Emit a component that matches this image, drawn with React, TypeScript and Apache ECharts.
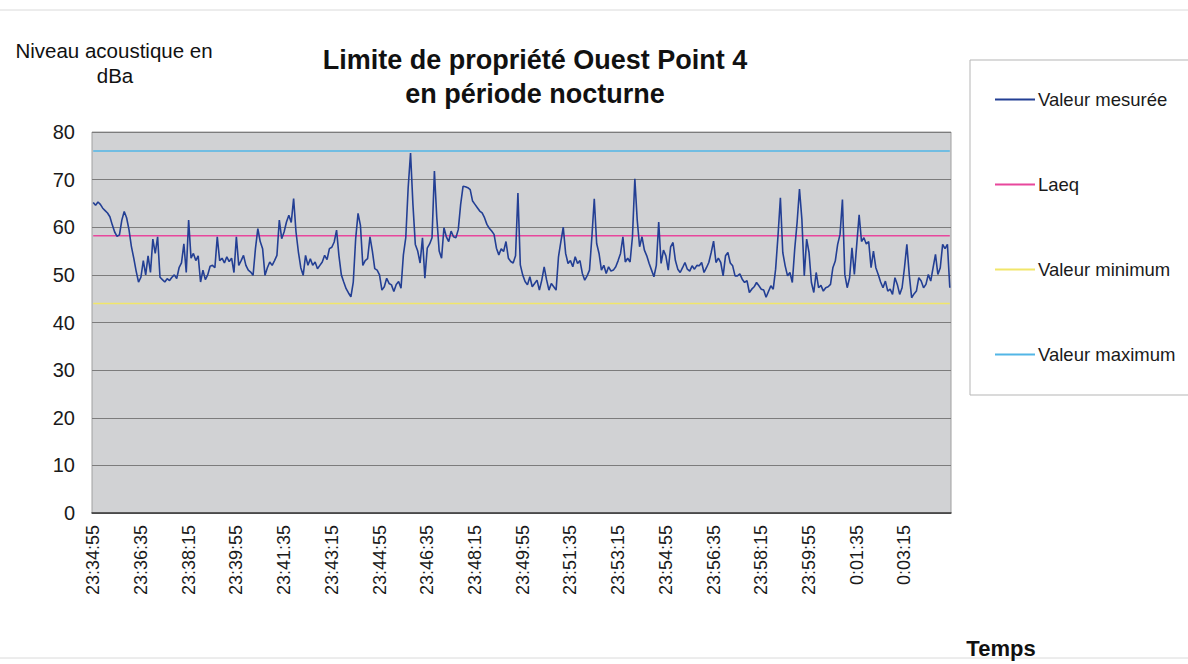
import React, { useEffect, useRef } from "react";
import * as echarts from "echarts";

// ---- data -------------------------------------------------------------
const START_TIME = "23:34:55";
const STEP_SECONDS = 5;
const POINT_COUNT = 360;

const measuredValues: number[] = [
  // 23:34:55
  65.2, 64.6, 65.3, 64.8, 64.0, 63.5, 63.0, 62.2, 60.5, 59.0, 58.1, 58.4, 61.5, 63.3, 62.0, 59.5, 56.0, 53.5, 50.8, 48.5,
  // 23:36:35
  49.5, 53.0, 50.0, 54.0, 50.5, 57.5, 54.5, 58.0, 49.5, 49.0, 48.5, 49.2, 48.8, 49.5, 50.0, 49.2, 51.5, 52.5, 56.5, 50.5,
  // 23:38:15
  61.5, 53.5, 54.5, 53.0, 54.0, 48.5, 51.0, 49.0, 50.0, 51.8, 52.0, 51.5, 58.0, 53.0, 53.5, 52.5, 53.8, 52.8, 53.5, 50.5,
  // 23:39:55
  58.0, 52.0, 53.0, 54.1, 52.0, 51.0, 50.6, 49.9, 55.5, 59.7, 57.0, 55.5, 49.9, 51.5, 52.7, 52.0, 53.0, 54.1, 61.5, 57.6,
  // 23:41:35
  59.0, 61.1, 62.5, 61.0, 66.0, 59.0, 54.8, 51.5, 49.9, 54.1, 52.0, 53.4, 52.0, 52.7, 51.3, 52.0, 52.7, 54.1, 53.2, 55.5,
  // 23:43:15
  55.8, 56.9, 59.4, 54.0, 50.0, 48.5, 47.1, 46.2, 45.4, 48.5, 57.6, 62.9, 60.4, 52.0, 53.0, 53.4, 58.0, 55.0, 51.3, 51.0,
  // 23:44:55
  50.0, 46.8, 47.5, 49.3, 48.2, 47.9, 46.5, 48.0, 48.6, 47.2, 54.2, 57.8, 68.3, 75.6, 64.8, 56.4, 55.0, 52.5, 57.8, 49.3,
  // 23:46:35
  55.6, 56.5, 57.8, 71.8, 62.0, 55.0, 53.5, 59.9, 58.0, 57.0, 59.2, 58.0, 57.8, 59.5, 64.8, 68.6, 68.5, 68.3, 67.9, 65.5,
  // 23:48:15
  64.8, 64.1, 63.4, 63.0, 62.0, 60.6, 59.8, 59.2, 58.5, 55.6, 54.2, 55.5, 54.9, 57.0, 53.5, 52.8, 52.5, 54.0, 67.2, 52.1,
  // 23:49:55
  50.0, 48.6, 47.9, 49.6, 47.5, 48.2, 48.9, 46.8, 48.9, 51.7, 49.0, 46.8, 48.2, 47.5, 46.8, 53.8, 57.0, 60.0, 54.5, 52.4,
  // 23:51:35
  53.0, 51.7, 53.8, 52.4, 53.0, 50.3, 48.9, 49.8, 51.0, 58.0, 66.0, 56.6, 54.5, 51.0, 52.0, 50.3, 51.7, 50.8, 51.0, 51.7,
  // 23:53:15
  53.0, 54.5, 58.0, 52.7, 53.5, 52.7, 58.0, 70.2, 61.5, 55.9, 58.0, 55.2, 54.0, 52.4, 51.0, 49.6, 52.0, 61.1, 52.4, 55.2,
  // 23:54:55
  54.0, 51.0, 55.9, 56.8, 53.0, 51.2, 50.5, 51.5, 52.6, 51.2, 50.8, 51.9, 51.2, 52.0, 51.9, 52.6, 50.5, 51.5, 52.6, 54.7,
  // 23:56:35
  57.1, 52.6, 53.5, 52.6, 49.8, 54.0, 54.7, 52.5, 51.9, 49.8, 49.8, 50.2, 49.1, 48.4, 48.8, 46.3, 47.0, 47.5, 48.4, 47.7,
  // 23:58:15
  47.0, 46.8, 45.3, 46.5, 47.7, 47.0, 51.2, 58.2, 66.2, 54.7, 51.9, 49.8, 50.5, 48.4, 55.4, 61.0, 68.0, 61.7, 49.8, 57.5,
  // 23:59:55
  54.7, 48.4, 46.3, 50.5, 47.3, 47.8, 46.6, 47.3, 47.5, 48.0, 51.5, 52.9, 56.4, 58.5, 65.8, 50.1, 47.3, 49.4, 55.7, 50.1,
  // 0:01:35
  56.4, 62.6, 57.0, 57.8, 56.5, 57.0, 51.5, 55.0, 51.5, 50.1, 48.5, 47.3, 48.7, 46.6, 47.0, 45.9, 49.4, 48.0, 45.9, 47.3,
  // 0:03:15
  51.5, 56.4, 50.1, 45.2, 46.0, 46.6, 49.4, 48.7, 47.3, 48.0, 50.1, 48.7, 51.5, 54.3, 50.1, 51.5, 56.4, 55.5, 56.4, 47.3,
];

const LAEQ_LEVEL = 58.2;
const MIN_LEVEL = 44.0;
const MAX_LEVEL = 76.0;

const Y_TICKS = [0, 10, 20, 30, 40, 50, 60, 70, 80];

const SERIES_NAMES = ["Valeur mesurée", "Laeq", "Valeur minimum", "Valeur maximum"];
const SERIES_COLORS = ["#233f94", "#e8479c", "#f1e66a", "#52b6e6"];

// ---- helpers ----------------------------------------------------------
function parseTime(t: string): number {
  const [h, m, s] = t.split(":").map(Number);
  return h * 3600 + m * 60 + s;
}
function formatTime(sec: number): string {
  const s = ((sec % 86400) + 86400) % 86400;
  const h = Math.floor(s / 3600);
  const m = Math.floor((s % 3600) / 60);
  const ss = s % 60;
  return `${h}:${String(m).padStart(2, "0")}:${String(ss).padStart(2, "0")}`;
}
const startSec = parseTime(START_TIME);
const categories: string[] = Array.from({ length: POINT_COUNT }, (_, i) =>
  formatTime(startSec + i * STEP_SECONDS)
);

const FONT = "'Liberation Sans', Arial, Helvetica, sans-serif";

export default function App() {
  const ref = useRef<HTMLDivElement>(null);

  useEffect(() => {
    if (!ref.current) return;
    const chart = echarts.init(ref.current, null, { renderer: "svg" });

    const constant = (v: number) => categories.map(() => v);

    chart.setOption({
      animation: false,
      backgroundColor: "#ffffff",
      textStyle: { fontFamily: FONT },
      grid: {
        left: 92,
        right: 237,
        top: 132,
        bottom: 151,
        show: true,
        backgroundColor: "#d1d2d4",
        borderColor: "#a0a0a0",
        borderWidth: 1,
        containLabel: false,
      },
      legend: {
        show: true,
        orient: "vertical",
        left: 990,
        top: 85,
        itemGap: 66,
        itemWidth: 40,
        itemHeight: 2,
        icon: "rect",
        data: SERIES_NAMES,
        textStyle: { fontFamily: FONT, fontSize: 18.5, color: "#1a1a1a", padding: [0, 0, 0, -2] },
      },
      xAxis: {
        type: "category",
        data: categories,
        boundaryGap: true,
        axisLine: { show: true, lineStyle: { color: "#3a3a3a", width: 1.5 } },
        axisTick: { show: false },
        axisLabel: {
          interval: 19,
          rotate: 90,
          margin: 12,
          fontFamily: FONT,
          fontSize: 18,
          color: "#1a1a1a",
        },
        splitLine: { show: false },
      },
      yAxis: {
        type: "value",
        min: Y_TICKS[0],
        max: Y_TICKS[Y_TICKS.length - 1],
        interval: 10,
        axisLine: { show: false },
        axisTick: { show: false },
        axisLabel: { fontFamily: FONT, fontSize: 20, color: "#1a1a1a", margin: 17 },
        splitLine: { show: true, lineStyle: { color: "#7c7c7c", width: 1 } },
      },
      graphic: [
        {
          type: "rect",
          shape: { x: -2, y: 10, width: 1200, height: 648 },
          style: { fill: "none", stroke: "#dadada", lineWidth: 1 },
          z: -2,
        },
        {
          type: "rect",
          shape: { x: 970, y: 60, width: 230, height: 335 },
          style: { fill: "#ffffff", stroke: "#b5b5b5", lineWidth: 1 },
          z: -1,
        },
        {
          type: "text",
          x: 114,
          y: 50,
          style: {
            text: "Niveau acoustique en",
            fontFamily: FONT,
            fontSize: 20.5,
            fill: "#111",
            textAlign: "center",
            textVerticalAlign: "middle",
          },
        },
        {
          type: "text",
          x: 115,
          y: 75,
          style: {
            text: "dBa",
            fontFamily: FONT,
            fontSize: 20.5,
            fill: "#111",
            textAlign: "center",
            textVerticalAlign: "middle",
          },
        },
        {
          type: "text",
          x: 535,
          y: 60,
          style: {
            text: "Limite de propriété Ouest Point 4",
            fontFamily: FONT,
            fontSize: 27,
            fontWeight: "bold",
            fill: "#111",
            textAlign: "center",
            textVerticalAlign: "middle",
          },
        },
        {
          type: "text",
          x: 535,
          y: 94,
          style: {
            text: "en période nocturne",
            fontFamily: FONT,
            fontSize: 27,
            fontWeight: "bold",
            fill: "#111",
            textAlign: "center",
            textVerticalAlign: "middle",
          },
        },
        {
          type: "text",
          x: 1001,
          y: 648,
          style: {
            text: "Temps",
            fontFamily: FONT,
            fontSize: 22,
            fontWeight: "bold",
            fill: "#111",
            textAlign: "center",
            textVerticalAlign: "middle",
          },
        },
      ],
      series: [
        {
          name: SERIES_NAMES[0],
          type: "line",
          data: measuredValues,
          symbol: "none",
          lineStyle: { color: SERIES_COLORS[0], width: 1.6 },
          itemStyle: { color: SERIES_COLORS[0] },
          z: 5,
        },
        {
          name: SERIES_NAMES[1],
          type: "line",
          data: constant(LAEQ_LEVEL),
          symbol: "none",
          lineStyle: { color: SERIES_COLORS[1], width: 1.5 },
          itemStyle: { color: SERIES_COLORS[1] },
          z: 4,
        },
        {
          name: SERIES_NAMES[2],
          type: "line",
          data: constant(MIN_LEVEL),
          symbol: "none",
          lineStyle: { color: SERIES_COLORS[2], width: 1.5 },
          itemStyle: { color: SERIES_COLORS[2] },
          z: 4,
        },
        {
          name: SERIES_NAMES[3],
          type: "line",
          data: constant(MAX_LEVEL),
          symbol: "none",
          lineStyle: { color: SERIES_COLORS[3], width: 1.5 },
          itemStyle: { color: SERIES_COLORS[3] },
          z: 4,
        },
      ],
    });

    return () => chart.dispose();
  }, []);

  return (
    <div
      ref={ref}
      style={{ position: "fixed", left: 0, top: 0, width: 1188, height: 664 }}
    />
  );
}
